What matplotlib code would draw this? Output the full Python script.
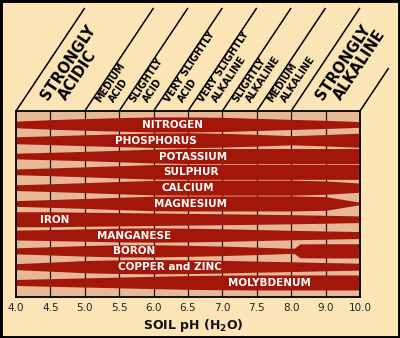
import numpy as np
import matplotlib.pyplot as plt
from matplotlib.patches import Rectangle

# pH scale (columns are evenly spaced, the last two cover a whole unit each)
ph_ticks = [4.0, 4.5, 5.0, 5.5, 6.0, 6.5, 7.0, 7.5, 8.0, 9.0, 10.0]
ph_labels = ["4.0", "4.5", "5.0", "5.5", "6.0", "6.5", "7.0", "7.5", "8.0", "9.0", "10.0"]

# relative availability (band thickness, fraction of a row) at each pH tick
nitrogen = [0.42, 0.60, 0.74, 0.86, 0.95, 0.95, 0.90, 0.77, 0.64, 0.52, 0.36]
phosphorus = [0.44, 0.56, 0.69, 0.81, 0.92, 0.95, 0.87, 0.74, 0.58, 0.72, 0.90]
potassium = [0.36, 0.47, 0.59, 0.73, 0.88, 0.95, 0.95, 0.95, 0.95, 0.95, 0.95]
sulphur = [0.36, 0.49, 0.63, 0.78, 0.92, 0.95, 0.95, 0.95, 0.95, 0.95, 0.95]
calcium = [0.36, 0.49, 0.63, 0.78, 0.92, 0.95, 0.95, 0.95, 0.95, 0.84, 0.58]
magnesium = [0.36, 0.49, 0.63, 0.78, 0.92, 0.95, 0.95, 0.95, 0.95, 0.87, 0.15]
iron = [0.95, 0.95, 0.89, 0.84, 0.79, 0.74, 0.69, 0.64, 0.58, 0.50, 0.42]
manganese = [0.62, 0.70, 0.78, 0.87, 0.90, 0.87, 0.80, 0.70, 0.60, 0.52, 0.44]
copper_zinc = [0.38, 0.57, 0.77, 0.87, 0.90, 0.87, 0.80, 0.70, 0.62, 0.52, 0.44]
molybdenum = [0.38, 0.48, 0.58, 0.68, 0.78, 0.87, 0.92, 0.95, 0.95, 0.95, 0.95]

# boron has a jump just above pH 8
boron_ph = [4.0, 4.5, 5.0, 5.5, 6.0, 6.5, 7.0, 7.5, 8.0, 8.1, 8.25, 9.0, 10.0]
boron = [0.38, 0.52, 0.67, 0.77, 0.77, 0.70, 0.60, 0.47, 0.32, 0.37, 0.88, 0.90, 0.90]

nutrients = ["NITROGEN", "PHOSPHORUS", "POTASSIUM", "SULPHUR", "CALCIUM", "MAGNESIUM",
             "IRON", "MANGANESE", "BORON", "COPPER and ZINC", "MOLYBDENUM"]
label_ph = [6.28, 6.03, 6.57, 6.55, 6.5, 6.53, 4.56, 5.71, 5.72, 6.24, 7.68]

# soil reaction classes along the top
class_lines = [["STRONGLY", "ACIDIC"], ["MEDIUM", "ACID"], ["SLIGHTLY", "ACID"],
               ["VERY SLIGHTLY", "ACID"], ["VERY SLIGHTLY", "ALKALINE"],
               ["SLIGHTLY", "ALKALINE"], ["MEDIUM", "ALKALINE"], ["STRONGLY", "ALKALINE"]]
class_edges = [4.0, 5.0, 5.5, 6.0, 6.5, 7.0, 7.5, 8.0, 10.0]

bg = "#FBE4B6"
tan = "#E6B898"
red = "#A3170A"

pos = np.arange(len(ph_ticks))


def to_pos(ph):
    return np.interp(ph, ph_ticks, pos)


plt.rcParams['mathtext.default'] = 'bf'
fig = plt.figure(figsize=(4, 3.38), dpi=100, facecolor=bg)

ax = fig.add_axes([0.04, 0.1213, 0.86, 0.5503])
ax.set_facecolor(tan)
ax.set_xlim(0, 10)
ax.set_ylim(11.92, 0.15)

for p in pos[1:-1]:
    ax.axvline(p, color="#1a1a1a", lw=0.9, zorder=1)

series = [nitrogen, phosphorus, potassium, sulphur, calcium, magnesium,
          iron, manganese, None, copper_zinc, molybdenum]
for i, (name, widths) in enumerate(zip(nutrients, series)):
    row = i + 1
    if widths is None:
        x = to_pos(boron_ph)
        w = np.array(boron)
    else:
        x = pos
        w = np.array(widths)
    ax.fill_between(x, row - w / 2, row + w / 2, color=red, lw=0, zorder=2)
    ax.text(to_pos(label_ph[i]), row + 0.03, name, color="white", fontsize=7.5,
            fontweight="bold", ha="center", va="center", zorder=3)

ax.set_xticks(pos)
ax.set_xticklabels(ph_labels, fontsize=7.5, color="#222222")
ax.tick_params(axis="x", length=0, pad=4)
ax.set_yticks([])
for s in ax.spines.values():
    s.set_linewidth(1.3)
    s.set_color("black")

fig.text(0.483, 0.038, "SOIL pH (H$_2$O)", fontsize=9, fontweight="bold",
         ha="center", va="center", color="#111111")

# slanted header lines and class names, drawn in pixel space
ov = fig.add_axes([0, 0, 1, 1], facecolor="none")
ov.set_xlim(0, 400)
ov.set_ylim(0, 338)
ov.axis("off")

box = ax.get_position()
x0 = box.x0 * 400
step = box.width * 400 / 10
ytop = box.y1 * 338
angle = 56.3
slope = np.tan(np.radians(angle))

for k, edge in enumerate(class_edges):
    bx = x0 + to_pos(edge) * step
    rise = 103 if k < len(class_edges) - 1 else 43
    ov.plot([bx, bx + rise / slope], [ytop, ytop + rise], color="black", lw=1.1,
            solid_capstyle="butt")

for k, lines in enumerate(class_lines):
    bx = x0 + to_pos(class_edges[k]) * step
    big = lines[0] == "STRONGLY"
    size = 10.5 if big else 7
    offsets = [32, 50] if big else [15, 29]
    lift = 9.5 if big else 8
    for line, off in zip(lines, offsets):
        ov.text(bx + off, ytop + lift, line, rotation=angle, rotation_mode="anchor",
                ha="left", va="baseline", fontsize=size, fontweight="bold", color="black")

fig.patches.append(Rectangle((0, 0), 1, 1, transform=fig.transFigure, fill=False,
                             edgecolor="black", lw=3.5))

fig.savefig("out.png", dpi=100, facecolor=bg)
